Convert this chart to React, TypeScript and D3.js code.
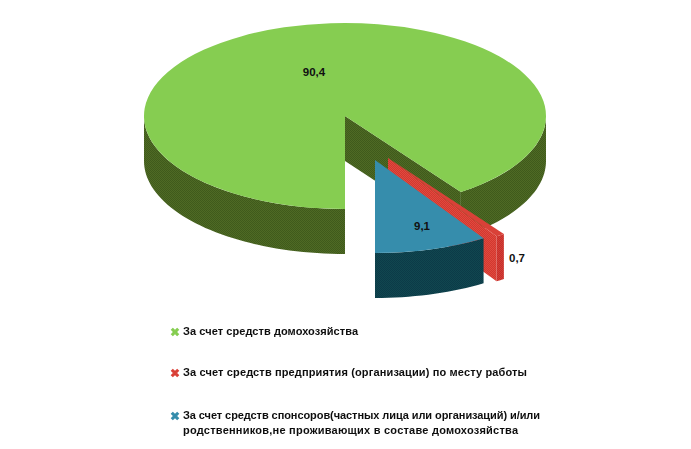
// App.tsx - exploded 3D pie
import * as d3 from 'd3';

const shareLabels = ['90,4', '0,7', '9,1'];
const shareValues = [90.4, 0.7, 9.1];
const topColors = ['#8fcb5c', '#d2382f', '#2f8ea8'];
const topDither = ['#7ccf46', '#e04a40', '#3c8cb0'];
const sideColors = ['#4f6a24', '#c4302c', '#10474f'];
const sideDither = ['#3f5a1c', '#d63e36', '#0c3a48'];
const legendRows = [
  ['За счет средств домохозяйства'],
  ['За счет средств предприятия (организации) по месту работы'],
  ['За счет средств спонсоров(частных лица или организаций) и/или', 'родственников,не проживающих в составе домохозяйства'],
];
const legendWidths = [[175], [344], [357, 335]];

const width = 691;
const height = 449;
const rx = 201;
const ry = 93;
const depth = 45;
// slice centres, the two small slices are pulled out of the pie
const centers = [
  { x: 345, y: 116 },
  { x: 388, y: 158 },
  { x: 375, y: 160 },
];
const labelPos = [
  { x: 314, y: 76 },
  { x: 517, y: 262 },
  { x: 422, y: 230 },
];
const legendY = [335, 376, 419];

const arcs = d3
  .pie<number>()
  .sort(null)
  .startAngle(Math.PI)
  .endAngle(3 * Math.PI)(shareValues);

const arcGen = d3.arc<d3.PieArcDatum<number>>().innerRadius(0).outerRadius(rx);
const deg = (d: number) => (d * Math.PI) / 180;

function rim(c: { x: number; y: number }, a0: number, a1: number) {
  const n = Math.max(2, Math.ceil(Math.abs(a1 - a0) / deg(2)));
  return d3.range(n + 1).map((i) => {
    const a = a0 + ((a1 - a0) * i) / n;
    return [c.x + rx * Math.sin(a), c.y - ry * Math.cos(a)] as [number, number];
  });
}

// outer wall between two angles, as a closed band
function wall(c: { x: number; y: number }, a0: number, a1: number) {
  const top = rim(c, a0, a1);
  const bottom = top.map(([x, y]) => [x, y + depth] as [number, number]).reverse();
  return d3.line()([...top, ...bottom]) + 'Z';
}

// flat cut face from the slice centre to the rim
function cut(c: { x: number; y: number }, a: number) {
  const [p] = rim(c, a, a + deg(2));
  return d3.line()([
    [c.x, c.y],
    p,
    [p[0], p[1] + depth],
    [c.x, c.y + depth],
  ]) + 'Z';
}

function Checker({ id, a, b }: { id: string; a: string; b: string }) {
  return (
    <pattern id={id} width={2} height={2} patternUnits="userSpaceOnUse">
      <rect width={2} height={2} fill={a} />
      <rect width={1} height={1} fill={b} />
      <rect x={1} y={1} width={1} height={1} fill={b} />
    </pattern>
  );
}

export default function App() {
  const [green, red, blue] = arcs;
  const greenEnd = green.endAngle;
  const marker = d3.symbol(d3.symbolCross, 46)() as string;

  return (
    <svg
      width={width}
      height={height}
      style={{ position: 'absolute', left: 0, top: 0, background: '#fff' }}
      fontFamily="'Liberation Sans', sans-serif"
    >
      <defs>
        {topColors.map((c, i) => (
          <Checker key={i} id={`top${i}`} a={c} b={topDither[i]} />
        ))}
        {sideColors.map((c, i) => (
          <Checker key={i} id={`side${i}`} a={c} b={sideDither[i]} />
        ))}
        <filter id="soft" x="-5%" y="-20%" width="110%" height="140%">
          <feGaussianBlur stdDeviation="0.4" />
        </filter>
      </defs>

      {/* green slice */}
      <path d={cut(centers[0], greenEnd)} fill="url(#side0)" />
      <path d={wall(centers[0], deg(450), greenEnd)} fill="url(#side0)" />
      <path d={wall(centers[0], deg(180), deg(270))} fill="url(#side0)" />
      <path
        d={arcGen(green) as string}
        transform={`translate(${centers[0].x},${centers[0].y}) scale(1,${ry / rx})`}
        fill="url(#top0)"
      />

      {/* red slice, its cut face shows above the blue slice */}
      <path d={cut(centers[1], red.endAngle)} fill="url(#top1)" />
      <path d={wall(centers[1], red.startAngle, red.endAngle)} fill="url(#side1)" />
      <path
        d={arcGen(red) as string}
        transform={`translate(${centers[1].x},${centers[1].y}) scale(1,${ry / rx})`}
        fill="url(#top1)"
      />

      {/* blue slice */}
      <path d={wall(centers[2], blue.startAngle, blue.endAngle)} fill="url(#side2)" />
      <path
        d={arcGen(blue) as string}
        transform={`translate(${centers[2].x},${centers[2].y}) scale(1,${ry / rx})`}
        fill="url(#top2)"
      />

      {shareLabels.map((t, i) => (
        <text
          key={t}
          x={labelPos[i].x}
          y={labelPos[i].y}
          textAnchor="middle"
          fontSize={11.5}
          fontWeight={700}
          fill="#111"
        >
          {t}
        </text>
      ))}

      {legendRows.map((lines, i) => (
        <g key={i}>
          <path
            d={marker}
            transform={`translate(175,${legendY[i] - 3}) rotate(45)`}
            fill={`url(#top${i})`}
          />
          {lines.map((line, j) => (
            <text
              key={j}
              x={183}
              y={legendY[i] + j * 15}
              fontSize={11}
              fontWeight={700}
              fill="#111"
              textLength={legendWidths[i][j]}
              filter="url(#soft)"
            >
              {line}
            </text>
          ))}
        </g>
      ))}
    </svg>
  );
}
